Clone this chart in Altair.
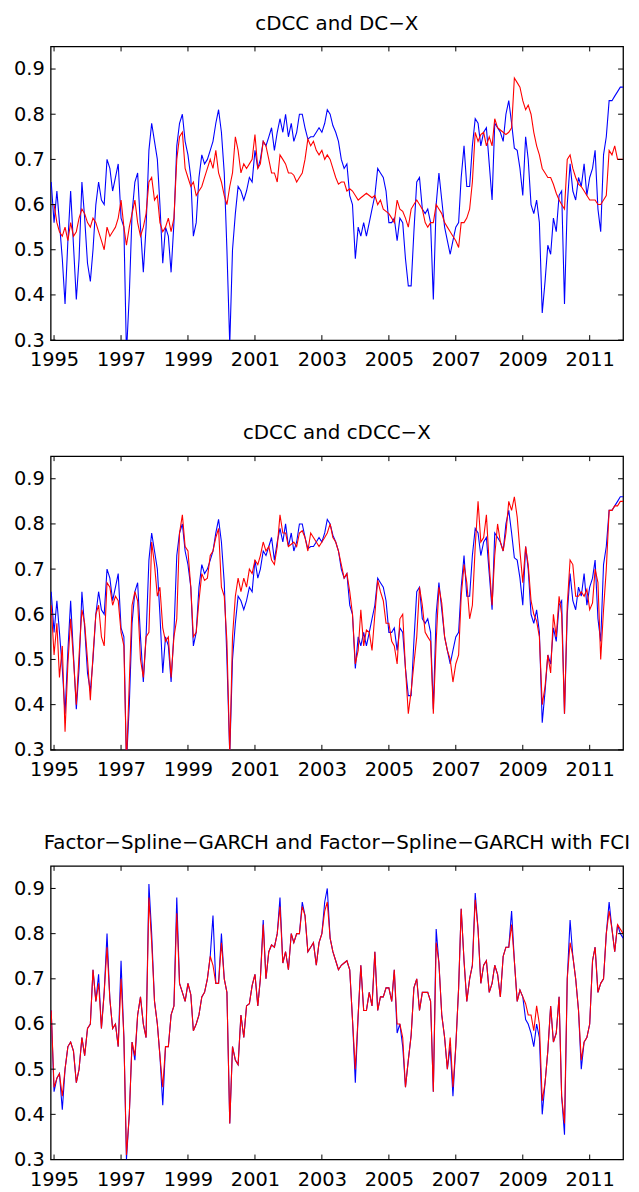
import altair as alt
import pandas as pd

# monthly observation dates (Dec 1994 .. Jan 2012)
dates = pd.date_range("1994-12-01", periods=206, freq="MS")

# cDCC (blue, panels 1 and 2)
cdcc = [
    0.65, 0.56, 0.63, 0.56, 0.48, 0.38, 0.52, 0.63, 0.51, 0.39,
    0.48, 0.65, 0.57, 0.47, 0.43, 0.50, 0.60, 0.65, 0.61, 0.60,
    0.70, 0.68, 0.63, 0.66, 0.69, 0.57, 0.55, 0.27, 0.40, 0.58,
    0.65, 0.67, 0.55, 0.45, 0.55, 0.72, 0.78, 0.74, 0.70, 0.60,
    0.47, 0.55, 0.53, 0.45, 0.56, 0.73, 0.78, 0.80, 0.74, 0.71,
    0.66, 0.53, 0.56, 0.66, 0.71, 0.69, 0.70, 0.72, 0.74, 0.78,
    0.81, 0.76, 0.67, 0.50, 0.29, 0.50, 0.58, 0.64, 0.63, 0.61,
    0.63, 0.66, 0.65, 0.72, 0.68, 0.70, 0.74, 0.73, 0.75, 0.77,
    0.72, 0.76, 0.79, 0.76, 0.80, 0.75, 0.78, 0.74, 0.76, 0.80,
    0.80, 0.77, 0.745, 0.75, 0.75, 0.76, 0.77, 0.76, 0.78, 0.81,
    0.80, 0.775, 0.76, 0.74, 0.70, 0.68, 0.69, 0.62, 0.60, 0.48,
    0.55, 0.53, 0.56, 0.53, 0.56, 0.59, 0.62, 0.68, 0.67, 0.66,
    0.63, 0.56, 0.56, 0.57, 0.52, 0.57, 0.56, 0.48, 0.42, 0.42,
    0.54, 0.65, 0.66, 0.59, 0.58, 0.59, 0.56, 0.39, 0.60, 0.67,
    0.61, 0.55, 0.52, 0.49, 0.52, 0.55, 0.56, 0.66, 0.73, 0.64,
    0.64, 0.73, 0.79, 0.78, 0.73, 0.76, 0.77, 0.69, 0.61, 0.78,
    0.77, 0.76, 0.74, 0.80, 0.83, 0.78, 0.725, 0.72, 0.68, 0.62,
    0.75, 0.70, 0.60, 0.58, 0.61, 0.56, 0.36, 0.43, 0.51, 0.49,
    0.57, 0.54, 0.62, 0.63, 0.38, 0.60, 0.69, 0.63, 0.61, 0.66,
    0.64, 0.69, 0.62, 0.66, 0.68, 0.72, 0.59, 0.54, 0.71, 0.75,
    0.83, 0.83, 0.84, 0.85, 0.86, 0.86,
]

# DC-X (red, panel 1)
dcx = [
    0.60, 0.60, 0.56, 0.54, 0.53, 0.55, 0.52, 0.56, 0.53, 0.54,
    0.57, 0.59, 0.58, 0.56, 0.55, 0.57, 0.56, 0.54, 0.52, 0.50,
    0.55, 0.53, 0.54, 0.55, 0.57, 0.61, 0.55, 0.51, 0.55, 0.58,
    0.61, 0.56, 0.53, 0.55, 0.58, 0.65, 0.66, 0.61, 0.62, 0.56,
    0.54, 0.55, 0.57, 0.54, 0.57, 0.70, 0.75, 0.76, 0.68, 0.66,
    0.64, 0.65, 0.62, 0.63, 0.64, 0.66, 0.68, 0.70, 0.68, 0.72,
    0.67, 0.65, 0.62, 0.60, 0.64, 0.67, 0.75, 0.72, 0.67, 0.69,
    0.68, 0.69, 0.70, 0.755, 0.68, 0.69, 0.74, 0.73, 0.70, 0.67,
    0.67, 0.65, 0.71, 0.70, 0.69, 0.67, 0.67, 0.665, 0.65, 0.66,
    0.67, 0.70, 0.745, 0.73, 0.74, 0.72, 0.71, 0.72, 0.70, 0.71,
    0.70, 0.68, 0.66, 0.645, 0.65, 0.65, 0.63, 0.635, 0.63, 0.62,
    0.61, 0.615, 0.62, 0.625, 0.62, 0.615, 0.62, 0.60, 0.61, 0.59,
    0.585, 0.58, 0.57, 0.56, 0.61, 0.59, 0.585, 0.57, 0.55, 0.59,
    0.60, 0.61, 0.60, 0.59, 0.56, 0.55, 0.56, 0.56, 0.60, 0.59,
    0.58, 0.56, 0.55, 0.54, 0.53, 0.52, 0.505, 0.56, 0.56, 0.57,
    0.59, 0.65, 0.76, 0.74, 0.755, 0.76, 0.73, 0.75, 0.73, 0.79,
    0.77, 0.765, 0.76, 0.755, 0.76, 0.77, 0.88, 0.87, 0.86, 0.83,
    0.81, 0.82, 0.80, 0.76, 0.73, 0.71, 0.68, 0.67, 0.66, 0.66,
    0.645, 0.625, 0.61, 0.60, 0.59, 0.70, 0.71, 0.68, 0.66, 0.645,
    0.64, 0.63, 0.62, 0.61, 0.61, 0.61, 0.60, 0.60, 0.61, 0.62,
    0.72, 0.71, 0.73, 0.70, 0.70, 0.70,
]

# cDCC-X (red, panel 2)
cdccx = [
    0.62, 0.51, 0.58, 0.46, 0.53, 0.34, 0.49, 0.59, 0.50, 0.40,
    0.51, 0.61, 0.58, 0.50, 0.41, 0.51, 0.60, 0.62, 0.55, 0.53,
    0.67, 0.66, 0.62, 0.64, 0.63, 0.56, 0.53, 0.27, 0.45, 0.62,
    0.65, 0.63, 0.50, 0.46, 0.55, 0.56, 0.76, 0.71, 0.64, 0.66,
    0.57, 0.54, 0.55, 0.46, 0.55, 0.59, 0.78, 0.82, 0.75, 0.74,
    0.66, 0.55, 0.56, 0.63, 0.69, 0.675, 0.68, 0.73, 0.74, 0.77,
    0.79, 0.66, 0.64, 0.54, 0.29, 0.55, 0.64, 0.68, 0.65, 0.68,
    0.66, 0.70, 0.69, 0.72, 0.71, 0.73, 0.76, 0.74, 0.75, 0.72,
    0.71, 0.75, 0.82, 0.78, 0.78, 0.75, 0.755, 0.76, 0.75, 0.78,
    0.785, 0.77, 0.74, 0.78, 0.77, 0.76, 0.75, 0.76, 0.77, 0.78,
    0.80, 0.77, 0.76, 0.74, 0.71, 0.68, 0.69, 0.65, 0.60, 0.49,
    0.52, 0.61, 0.53, 0.565, 0.56, 0.52, 0.60, 0.675, 0.65, 0.63,
    0.58, 0.58, 0.54, 0.53, 0.49, 0.59, 0.60, 0.48, 0.38, 0.43,
    0.49, 0.55, 0.66, 0.62, 0.56, 0.55, 0.54, 0.38, 0.54, 0.66,
    0.625, 0.55, 0.52, 0.50, 0.45, 0.49, 0.51, 0.64, 0.71, 0.67,
    0.59, 0.62, 0.75, 0.85, 0.76, 0.77, 0.82, 0.71, 0.62, 0.73,
    0.80, 0.76, 0.74, 0.78, 0.85, 0.83, 0.86, 0.815, 0.74, 0.67,
    0.75, 0.71, 0.63, 0.60, 0.585, 0.55, 0.40, 0.44, 0.51, 0.47,
    0.60, 0.55, 0.64, 0.60, 0.38, 0.62, 0.72, 0.71, 0.64, 0.64,
    0.65, 0.64, 0.655, 0.61, 0.625, 0.70, 0.67, 0.50, 0.61, 0.70,
    0.83, 0.83, 0.84, 0.84, 0.85, 0.85,
]

# Factor-Spline-GARCH (blue, panel 3)
fsg = [
    0.63, 0.45, 0.48, 0.49, 0.41, 0.50, 0.55, 0.56, 0.54, 0.47,
    0.50, 0.57, 0.53, 0.59, 0.60, 0.72, 0.65, 0.71, 0.59, 0.67,
    0.80, 0.655, 0.59, 0.60, 0.55, 0.74, 0.57, 0.30, 0.40, 0.56,
    0.52, 0.62, 0.66, 0.60, 0.57, 0.91, 0.80, 0.65, 0.60, 0.53,
    0.42, 0.55, 0.55, 0.62, 0.64, 0.88, 0.69, 0.67, 0.65, 0.69,
    0.665, 0.585, 0.60, 0.62, 0.66, 0.67, 0.70, 0.75, 0.84, 0.69,
    0.69, 0.80, 0.70, 0.67, 0.38, 0.55, 0.52, 0.51, 0.62, 0.57,
    0.64, 0.645, 0.685, 0.71, 0.64, 0.70, 0.83, 0.70, 0.76, 0.775,
    0.77, 0.80, 0.88, 0.735, 0.76, 0.72, 0.80, 0.78, 0.80, 0.80,
    0.87, 0.84, 0.76, 0.77, 0.78, 0.73, 0.78, 0.80, 0.87, 0.90,
    0.79, 0.76, 0.74, 0.72, 0.73, 0.735, 0.74, 0.72, 0.61, 0.47,
    0.62, 0.73, 0.63, 0.63, 0.67, 0.64, 0.76, 0.63, 0.66, 0.66,
    0.68, 0.68, 0.65, 0.72, 0.58, 0.60, 0.55, 0.46, 0.52, 0.575,
    0.68, 0.70, 0.63, 0.67, 0.67, 0.67, 0.65, 0.45, 0.81, 0.735,
    0.62, 0.57, 0.50, 0.55, 0.44, 0.55, 0.68, 0.855, 0.74, 0.65,
    0.70, 0.73, 0.89, 0.81, 0.69, 0.73, 0.74, 0.67, 0.69, 0.73,
    0.71, 0.66, 0.75, 0.77, 0.77, 0.85, 0.74, 0.65, 0.675, 0.66,
    0.61, 0.60, 0.58, 0.55, 0.60, 0.57, 0.40, 0.47, 0.54, 0.64,
    0.56, 0.58, 0.66, 0.44, 0.355, 0.70, 0.83, 0.75, 0.70, 0.63,
    0.50, 0.56, 0.57, 0.60, 0.74, 0.77, 0.67, 0.69, 0.70, 0.80,
    0.87, 0.81, 0.76, 0.82, 0.80, 0.79,
]

# Factor-Spline-GARCH with FCI (red, panel 3)
fsg_fci = [
    0.63, 0.46, 0.48, 0.49, 0.44, 0.50, 0.55, 0.56, 0.54, 0.47,
    0.50, 0.57, 0.53, 0.59, 0.60, 0.72, 0.65, 0.69, 0.59, 0.67,
    0.77, 0.655, 0.59, 0.60, 0.55, 0.70, 0.57, 0.31, 0.40, 0.56,
    0.53, 0.62, 0.66, 0.60, 0.57, 0.88, 0.78, 0.65, 0.60, 0.53,
    0.46, 0.55, 0.55, 0.62, 0.64, 0.845, 0.69, 0.67, 0.65, 0.69,
    0.665, 0.585, 0.60, 0.62, 0.66, 0.67, 0.70, 0.75, 0.73, 0.69,
    0.69, 0.78, 0.70, 0.67, 0.38, 0.55, 0.52, 0.51, 0.62, 0.57,
    0.64, 0.645, 0.685, 0.71, 0.64, 0.70, 0.82, 0.70, 0.76, 0.775,
    0.77, 0.80, 0.86, 0.735, 0.76, 0.72, 0.80, 0.78, 0.80, 0.80,
    0.86, 0.84, 0.76, 0.77, 0.78, 0.73, 0.78, 0.80, 0.85, 0.87,
    0.79, 0.76, 0.74, 0.72, 0.73, 0.735, 0.74, 0.72, 0.61, 0.50,
    0.62, 0.73, 0.63, 0.63, 0.67, 0.64, 0.76, 0.63, 0.66, 0.66,
    0.68, 0.68, 0.65, 0.72, 0.60, 0.60, 0.57, 0.46, 0.52, 0.575,
    0.68, 0.70, 0.63, 0.67, 0.67, 0.67, 0.65, 0.45, 0.78, 0.735,
    0.62, 0.57, 0.50, 0.57, 0.46, 0.55, 0.68, 0.855, 0.74, 0.65,
    0.70, 0.73, 0.875, 0.81, 0.69, 0.73, 0.74, 0.67, 0.69, 0.73,
    0.71, 0.66, 0.75, 0.77, 0.77, 0.82, 0.74, 0.65, 0.675, 0.66,
    0.645, 0.62, 0.62, 0.585, 0.64, 0.60, 0.43, 0.47, 0.54, 0.64,
    0.56, 0.58, 0.66, 0.44, 0.38, 0.70, 0.78, 0.75, 0.70, 0.63,
    0.52, 0.56, 0.57, 0.60, 0.74, 0.77, 0.67, 0.69, 0.70, 0.80,
    0.85, 0.81, 0.76, 0.82, 0.81, 0.80,
]

titles = [
    "cDCC and DC\u2212X",
    "cDCC and cDCC\u2212X",
    "Factor\u2212Spline\u2212GARCH and Factor\u2212Spline\u2212GARCH with FCI",
]
y_ticks = [0.3, 0.4, 0.5, 0.6, 0.7, 0.8, 0.9]
x_tick_years = [1995, 1997, 1999, 2001, 2003, 2005, 2007, 2009, 2011]

W, H = 577, 296
FONT = "DejaVu Sans"
FS = 19.5
TFS = 20
TL = 5  # inward tick length

x_scale = alt.Scale(domain=[alt.DateTime(year=1994, month=11, date=25),
                            alt.DateTime(year=2011, month=12, date=31)])
y_scale = alt.Scale(domain=[0.3, 0.95], nice=False, zero=False)
x_axis = alt.Axis(values=[alt.DateTime(year=y, month=1, date=1) for y in x_tick_years],
                  format="%Y", title=None, labelFlush=False, labelOverlap=False,
                  labelPadding=11, grid=False, ticks=False, domain=False,
                  labelFont=FONT, labelFontSize=FS, labelColor="black")
y_axis = alt.Axis(values=y_ticks, format=".1f", title=None, labelPadding=6.5,
                  labelOverlap=False, grid=False, ticks=False, domain=False,
                  labelFont=FONT, labelFontSize=FS, labelColor="black")

ytick_df = pd.DataFrame({"v": y_ticks})
xtick_df = pd.DataFrame({"d": pd.to_datetime([f"{y}-01-01" for y in x_tick_years])})


def panel(title, blue, red):
    df = pd.DataFrame({"date": dates, "blue": blue, "red": red})
    base = alt.Chart(df)
    X = alt.X("date:T", scale=x_scale, axis=x_axis)
    lb = base.mark_line(color="#0000ff", strokeWidth=1.1, clip=True).encode(
        x=X, y=alt.Y("blue:Q", scale=y_scale, axis=y_axis))
    lr = base.mark_line(color="#ff0000", strokeWidth=1.1, clip=True).encode(
        x=X, y=alt.Y("red:Q", scale=y_scale, axis=y_axis))
    yt = alt.Chart(ytick_df)
    tl = yt.mark_rule(color="black", strokeWidth=1).encode(
        y=alt.Y("v:Q", scale=y_scale, axis=y_axis), x=alt.value(0), x2=alt.value(TL))
    tr = yt.mark_rule(color="black", strokeWidth=1).encode(
        y=alt.Y("v:Q", scale=y_scale, axis=y_axis), x=alt.value(W - TL), x2=alt.value(W))
    xt = alt.Chart(xtick_df)
    tb = xt.mark_rule(color="black", strokeWidth=1).encode(
        x=alt.X("d:T", scale=x_scale, axis=x_axis), y=alt.value(H - TL), y2=alt.value(H))
    tt = xt.mark_rule(color="black", strokeWidth=1).encode(
        x=alt.X("d:T", scale=x_scale, axis=x_axis), y=alt.value(0), y2=alt.value(TL))
    return alt.layer(lb, lr, tl, tr, tb, tt).properties(
        width=W, height=H,
        title=alt.TitleParams(text=title, fontSize=TFS, font=FONT, fontWeight="normal",
                              anchor="middle", frame="group", offset=12.5, color="black"),
    )


chart = alt.vconcat(
    panel(titles[0], cdcc, dcx),
    panel(titles[1], cdcc, cdccx),
    panel(titles[2], fsg, fsg_fci),
    spacing=52,
).properties(
    padding={"left": 4, "right": 0, "top": 0, "bottom": 0},
    background="white",
).configure_view(
    stroke="black", strokeWidth=1.3
)

chart.save("out.html", embed_options={"renderer": "svg", "actions": False})
